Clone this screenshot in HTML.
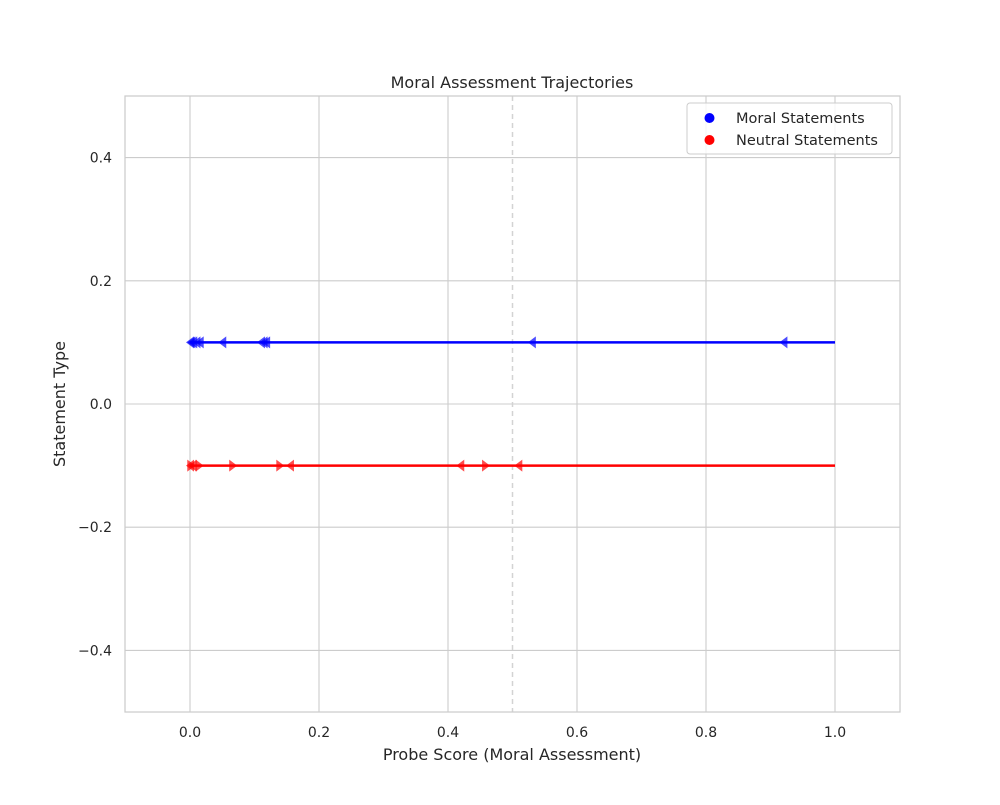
<!DOCTYPE html>
<html><head><meta charset="utf-8"><style>
body{margin:0;background:#fff;font-family:"Liberation Sans","DejaVu Sans",sans-serif;}
svg text{font-family:"DejaVu Sans","Liberation Sans",sans-serif;fill:#262626;}
</style></head><body>
<svg id="chart" width="1000" height="800" xmlns="http://www.w3.org/2000/svg">
<rect width="1000" height="800" fill="#fff"/>
<g id="grid"></g>
<g id="marks"></g>
<rect x="125" y="96" width="775" height="616" fill="none" stroke="#cccccc" stroke-width="1.25"/>
<text x="512" y="88" text-anchor="middle" font-size="16">Moral Assessment Trajectories</text>
<text x="512" y="760" text-anchor="middle" font-size="16">Probe Score (Moral Assessment)</text>
<text x="65" y="404" text-anchor="middle" font-size="16" transform="rotate(-90 65 404)">Statement Type</text>
<g>
<rect x="687" y="103" width="205" height="51" rx="3" fill="#fff" fill-opacity="0.8" stroke="#cccccc"/>
<circle cx="709.5" cy="118" r="5" fill="#0000ff"/>
<text x="736" y="123" font-size="14.5">Moral Statements</text>
<circle cx="709.5" cy="140" r="5" fill="#ff0000"/>
<text x="736" y="145" font-size="14.5">Neutral Statements</text>
</g>
</svg>
<script>
const xTicks=[0,0.2,0.4,0.6,0.8,1.0];
const xTickLabels=["0.0","0.2","0.4","0.6","0.8","1.0"];
const yTicks=[0.4,0.2,0,-0.2,-0.4];
const yTickLabels=["0.4","0.2","0.0","\u22120.2","\u22120.4"];
const seriesY=[0.1,-0.1];
const seriesColors=["#0000ff","#ff0000"];
const lineStart=[0,0];
const lineEnd=[1,1];
const moralPoints=[0,0.002,0.005,0.01,0.015,0.05,0.11,0.114,0.118,0.53,0.92];
const moralDirs=[-1,-1,-1,-1,-1,-1,-1,-1,-1,-1,-1];
const neutralPoints=[0,0.002,0.004,0.015,0.067,0.14,0.155,0.419,0.459,0.509];
const neutralDirs=[-1,1,-1,1,1,1,-1,-1,1,-1];
const threshold=0.5;

const X=v=>190+(v-0)*645;
const Y=v=>404-v*616;
const NS="http://www.w3.org/2000/svg";
const grid=document.getElementById('grid'),marks=document.getElementById('marks'),svg=document.getElementById('chart');
function mk(tag,attrs,parent){const e=document.createElementNS(NS,tag);for(const k in attrs)e.setAttribute(k,attrs[k]);parent.appendChild(e);return e;}
xTicks.forEach((t,i)=>{
 const l=mk('line',{x1:X(t),x2:X(t),y1:96,y2:712,stroke:'#cccccc','stroke-width':1.1},grid);
 
 
 const tx=mk('text',{x:X(t),y:737,'text-anchor':'middle','font-size':14},svg);
 tx.textContent=xTickLabels[i];
 
 
});
yTicks.forEach((t,i)=>{
 const l=mk('line',{x1:125,x2:900,y1:Y(t),y2:Y(t),stroke:'#cccccc','stroke-width':1.1},grid);
 
 
 const tx=mk('text',{x:112,y:Y(t)+5,'text-anchor':'end','font-size':14},svg);
 tx.textContent=yTickLabels[i];
 
 
});
const th=mk('line',{x1:X(threshold),x2:X(threshold),y1:96,y2:712,stroke:'#d3d3d3','stroke-width':1.5,'stroke-dasharray':'5 4'},grid);


const pts=[moralPoints,neutralPoints],dirs=[moralDirs,neutralDirs],names=['moral','neutral'];
seriesY.forEach((sy,s)=>{
 const ln=mk('line',{x1:X(lineStart[s]),x2:X(lineEnd[s]),y1:Y(sy),y2:Y(sy),stroke:seriesColors[s],'stroke-width':2.5},marks);
 
 
 pts[s].forEach((v,i)=>{
  const cx=X(v),cy=Y(sy),d=dirs[s][i];
  const p=mk('polygon',{points:`${cx+4*d},${cy} ${cx-4*d},${cy-6} ${cx-4*d},${cy+6}`,fill:seriesColors[s],'fill-opacity':0.7},marks);
  
  
 });
});
</script>
</body></html>
